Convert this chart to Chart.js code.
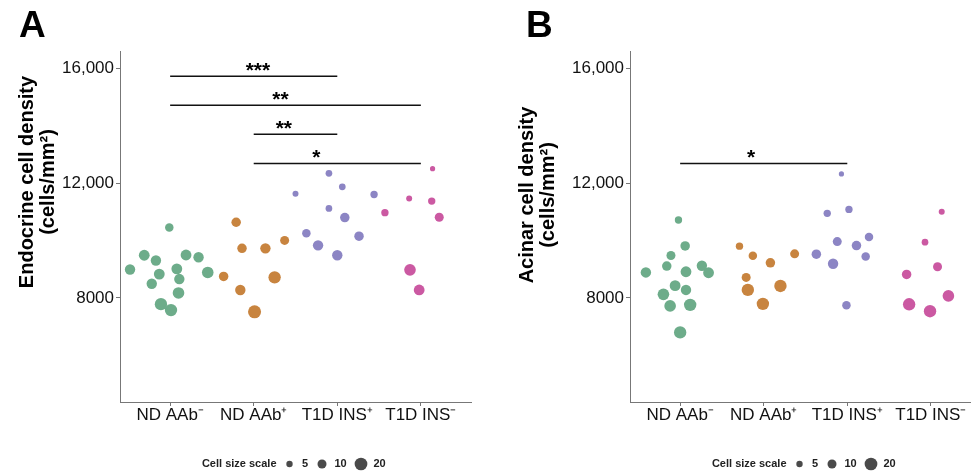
<!DOCTYPE html>
<html>
<head>
<meta charset="utf-8">
<script src="https://cdn.jsdelivr.net/npm/chart.js@4"></script>
<style>
  html, body { margin: 0; padding: 0; background: #fff; width: 971px; height: 474px; overflow: hidden; }
  .panel { position: absolute; top: 0; width: 490px; height: 474px; }
  #panel_a { left: 0; }
  #panel_b { left: 510px; }
</style>
</head>
<body>
<div class="panel" id="panel_a"><canvas id="chart_a" width="490" height="474"></canvas></div>
<div class="panel" id="panel_b"><canvas id="chart_b" width="490" height="474"></canvas></div>
<script>
// groups, ticks
const groups = ['ND AAb\u207B', 'ND AAb\u207A', 'T1D INS\u207A', 'T1D INS\u207B'];
const groupColors = ['#6dac8a', '#c8843f', '#8c85c4', '#cb59a2'];
const yTicks = [8000, 12000, 16000];
const yTickLabels = ['8000', '12,000', '16,000'];
const legendSizes = [5, 10, 20];

// A: endocrine cell density (x = jittered group position, size = cell size)
const endoX = [
  [0.52, 0.69, 0.83, 0.99, 0.87, 0.78, 1.08, 1.11, 1.19, 1.34, 1.45, 1.10, 0.89, 1.01],
  [1.79, 1.86, 2.14, 2.37, 1.64, 1.84, 2.25, 2.01],
  [2.90, 2.50, 3.06, 3.44, 2.90, 3.09, 2.63, 2.77, 3.26, 3.00],
  [4.14, 3.86, 4.13, 3.57, 4.22, 3.87, 3.98]
];
const endoY = [
  [8992, 9487, 9303, 10454, 8830, 8494, 9013, 8657, 9497, 9417, 8888, 8173, 7782, 7575],
  [10638, 9729, 9729, 10005, 8750, 8277, 8716, 7516],
  [12346, 11630, 11872, 11606, 11122, 10800, 10257, 9832, 10154, 9487],
  [12505, 11467, 11377, 10973, 10811, 8978, 8277]
];
const endoSize = [
  [12, 13, 12, 8, 13, 12, 13, 12, 13, 12, 15, 15, 17, 17],
  [10, 10, 12, 9, 10, 12, 17, 19],
  [5, 4, 5, 6, 5, 10, 8, 12, 10, 12],
  [3, 4, 6, 6, 9, 15, 13]
];
// [from group, to group, height, stars, star position]
const endoSig = [
  [1, 3, 15731, '***', 2.05],
  [1, 4, 14720, '**', 2.32],
  [2, 3, 13709, '**', 2.36],
  [2, 4, 12687, '*', 2.75]
];

// B: acinar cell density
const acinX = [
  [0.98, 1.06, 0.89, 0.84, 0.59, 1.07, 1.26, 1.34, 0.94, 1.07, 0.80, 0.88, 1.12, 1.00],
  [1.71, 1.87, 2.08, 2.37, 1.79, 1.81, 2.20, 1.99],
  [2.93, 2.76, 3.02, 2.88, 3.26, 3.11, 2.63, 3.22, 2.83, 2.99],
  [4.13, 3.93, 4.08, 3.71, 4.21, 3.74, 3.99]
];
const acinY = [
  [10716, 9814, 9478, 9110, 8888, 8912, 9120, 8878, 8427, 8278, 8125, 7722, 7757, 6796],
  [9804, 9467, 9225, 9537, 8715, 8278, 8416, 7792],
  [12322, 10949, 11087, 9963, 10127, 9825, 9526, 9443, 9190, 7743],
  [11004, 9943, 9086, 8819, 8069, 7778, 7535]
];
const acinSize = [
  [6, 10, 9, 10, 12, 13, 12, 13, 13, 12, 15, 15, 17, 17],
  [6, 8, 10, 9, 9, 17, 17, 17],
  [3, 6, 6, 9, 8, 10, 10, 8, 12, 8],
  [4, 5, 9, 10, 15, 17, 17]
];
const acinSig = [
  [1, 3, 12690, '*', 1.85]
];

const FONT = '"Liberation Sans", Arial, Helvetica, sans-serif';
Chart.defaults.font.family = FONT;

function radius(size) {
  return 1.5 * Math.sqrt(size);
}

function buildDatasets(xs, ys, sizes, sig) {
  const sets = groups.map((g, i) => ({
    type: 'bubble',
    label: g,
    data: xs[i].map((x, j) => ({x: x, y: ys[i][j], r: radius(sizes[i][j])})),
    backgroundColor: groupColors[i],
    borderWidth: 0
  }));
  sig.forEach(s => {
    sets.push({
      type: 'line',
      label: s[3],
      data: [{x: s[0], y: s[2]}, {x: s[1], y: s[2]}],
      borderColor: '#111',
      borderWidth: 1.5,
      pointRadius: 0,
      fill: false
    });
  });
  return sets;
}

// panel letter, y title, stars and size legend
const decor = {
  id: 'decor',
  afterDraw(chart, args, opts) {
    const {ctx, scales} = chart;
    ctx.save();
    ctx.fillStyle = '#000';
    ctx.textBaseline = 'alphabetic';
    ctx.textAlign = 'left';
    ctx.font = 'bold 37px ' + FONT;
    ctx.fillText(opts.letter, opts.letterX, 37);

    ctx.font = 'bold 20px ' + FONT;
    ctx.textAlign = 'center';
    ctx.textBaseline = 'middle';
    opts.title.forEach((line, i) => {
      ctx.save();
      ctx.translate(opts.titleX[i], opts.titleY);
      ctx.rotate(-Math.PI / 2);
      ctx.fillText(line, 0, 0);
      ctx.restore();
    });

    ctx.font = 'bold 21px ' + FONT;
    ctx.textBaseline = 'alphabetic';
    opts.sig.forEach(s => {
      ctx.fillText(s[3], scales.x.getPixelForValue(s[4]), scales.y.getPixelForValue(s[2]) + 0.5);
    });

    ctx.font = 'bold 11px ' + FONT;
    ctx.textBaseline = 'middle';
    ctx.textAlign = 'right';
    ctx.fillStyle = '#222';
    ctx.fillText('Cell size scale', 276.5, 464);
    const dotX = [289.5, 322, 361];
    const numX = [305, 340.5, 379.5];
    ctx.textAlign = 'center';
    legendSizes.forEach((s, i) => {
      ctx.fillStyle = '#4a4a4a';
      ctx.beginPath();
      ctx.arc(dotX[i], 464, radius(s) * 0.95, 0, Math.PI * 2);
      ctx.fill();
      ctx.fillStyle = '#222';
      ctx.fillText(String(s), numX[i], 464);
    });
    ctx.restore();
  }
};

function makeChart(id, xs, ys, sizes, sig, letter, letterX, title, titleX, titleY) {
  const ctx = document.getElementById(id).getContext('2d');
  return new Chart(ctx, {
    type: 'bubble',
    data: {datasets: buildDatasets(xs, ys, sizes, sig)},
    plugins: [decor],
    options: {
      responsive: false,
      animation: false,
      layout: {padding: {left: 0, top: 51, right: 19, bottom: 0}},
      scales: {
        x: {
          type: 'linear',
          min: 0.4,
          max: 4.6,
          afterBuildTicks: axis => { axis.ticks = groups.map((g, i) => ({value: i + 1})); },
          afterFit: axis => { axis.height = 72; },
          ticks: {
            callback: (v, i) => groups[i],
            font: {size: 17},
            color: '#111',
            padding: -1,
            maxRotation: 0,
            autoSkip: false
          },
          grid: {drawOnChartArea: false, tickLength: 4, color: '#777'},
          border: {color: '#777', width: 1}
        },
        y: {
          type: 'linear',
          min: 4370,
          max: 16610,
          afterBuildTicks: axis => { axis.ticks = yTicks.map(v => ({value: v})); },
          afterFit: axis => { axis.width = 120; },
          ticks: {
            callback: (v, i) => yTickLabels[i],
            font: {size: 17},
            color: '#111',
            padding: 2
          },
          grid: {drawOnChartArea: false, tickLength: 4, color: '#777'},
          border: {color: '#777', width: 1}
        }
      },
      plugins: {
        legend: {display: false},
        tooltip: {enabled: false},
        decor: {letter: letter, letterX: letterX, title: title, titleX: titleX, titleY: titleY, sig: sig}
      }
    }
  });
}

window.onload = function() {
  makeChart('chart_a', endoX, endoY, endoSize, endoSig, 'A', 19,
    ['Endocrine cell density', '(cells/mm\u00B2)'], [27.5, 48], 182);
  makeChart('chart_b', acinX, acinY, acinSize, acinSig, 'B', 16,
    ['Acinar cell density', '(cells/mm\u00B2)'], [17.5, 38], 195);
};
</script>
</body>
</html>
